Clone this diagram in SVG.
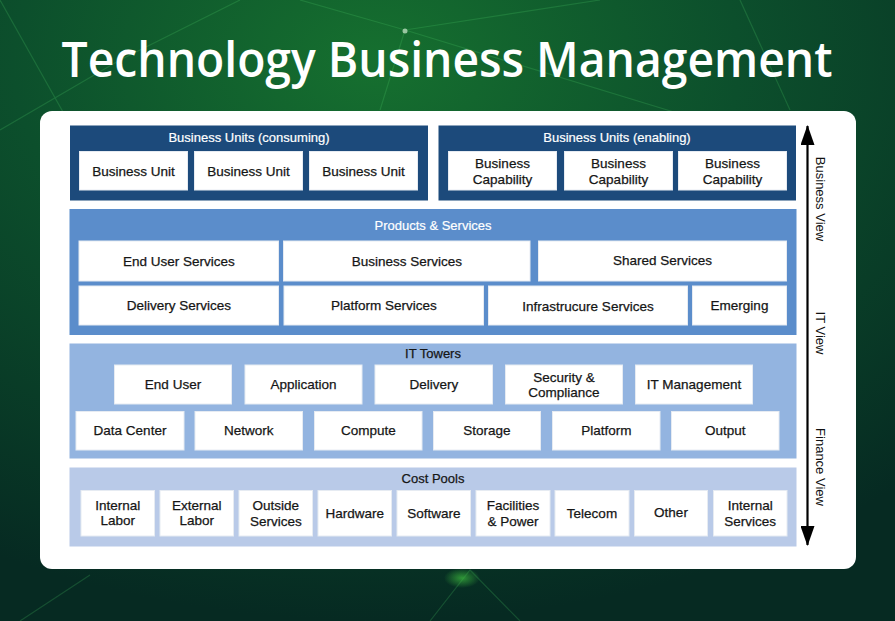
<svg xmlns="http://www.w3.org/2000/svg" width="895" height="621" viewBox="0 0 895 621">
<defs>
<radialGradient id="bg" cx="0.42" cy="0.1" r="0.9">
<stop offset="0" stop-color="#16702f"/>
<stop offset="0.45" stop-color="#0c4f2c"/>
<stop offset="1" stop-color="#062a22"/>
</radialGradient>
<radialGradient id="glow" cx="0.5" cy="0.5" r="0.5">
<stop offset="0" stop-color="#3fbf3f" stop-opacity="0.7"/>
<stop offset="1" stop-color="#3fbf3f" stop-opacity="0"/>
</radialGradient>
<marker id="ah" viewBox="0 0 20 14" refX="19" refY="7" markerWidth="20" markerHeight="14" markerUnits="userSpaceOnUse" orient="auto-start-reverse">
<path d="M0,0 L20,7 L0,14 Z" fill="#000"/>
</marker>
</defs>
<style>
.t{font-family:"Liberation Sans",Arial,sans-serif;font-size:13.5px;fill:#161616;stroke:#161616;stroke-width:0.25;text-anchor:middle;dominant-baseline:central}
.h{font-family:"Liberation Sans",Arial,sans-serif;font-size:13px;fill:#ffffff;stroke:#ffffff;stroke-width:0.2;text-anchor:middle;dominant-baseline:central}
.b{fill:#ffffff;stroke:#e6ebf2;stroke-width:1}
.v{font-family:"Liberation Sans",Arial,sans-serif;font-size:13px;fill:#111;text-anchor:middle;dominant-baseline:central}
.bgl{stroke:#4fd06a;stroke-width:1.2;fill:none}
</style>
<rect width="895" height="621" fill="url(#bg)"/>
<g opacity="0.22">
<path class="bgl" d="M0,0 L180,320"/>
<path class="bgl" d="M300,0 L405,30 L600,0"/>
<path class="bgl" d="M405,30 L380,110"/>
<path class="bgl" d="M405,30 L700,120"/>
<path class="bgl" d="M0,130 L120,60 L240,0"/>
<path class="bgl" d="M740,0 L790,110"/>
<path class="bgl" d="M430,621 L470,570 L520,621"/>
<path class="bgl" d="M20,621 L90,575"/>
</g>
<circle cx="405" cy="31" r="2.5" fill="#cfe8cf" opacity="0.7"/>
<ellipse cx="462" cy="578" rx="18" ry="10" fill="url(#glow)"/>
<text x="447" y="77" font-family="'Open Sans','Liberation Sans',sans-serif" font-size="49" font-weight="600" fill="#ffffff" text-anchor="middle" textLength="771" lengthAdjust="spacingAndGlyphs">Technology Business Management</text>
<rect x="40" y="111" width="816" height="458" rx="12" fill="#ffffff"/>

<g id="bu-consuming">
<rect x="70" y="125.5" width="358" height="75" fill="#1c4a7b"/>
<text class="h" x="249" y="137.5">Business Units (consuming)</text>
<rect class="b" x="79.5" y="151.5" width="108" height="38.5"/>
<text class="t" x="133.5" y="171">Business Unit</text>
<rect class="b" x="194.5" y="151.5" width="108" height="38.5"/>
<text class="t" x="248.5" y="171">Business Unit</text>
<rect class="b" x="309.5" y="151.5" width="108" height="38.5"/>
<text class="t" x="363.5" y="171">Business Unit</text>
</g>

<g id="bu-enabling">
<rect x="438.5" y="125.5" width="357.5" height="75" fill="#1c4a7b"/>
<text class="h" x="617" y="137.5">Business Units (enabling)</text>
<rect class="b" x="448.5" y="151.5" width="108" height="38.5"/>
<text class="t" x="502.5" y="163">Business</text><text class="t" x="502.5" y="179">Capability</text>
<rect class="b" x="564.5" y="151.5" width="108" height="38.5"/>
<text class="t" x="618.5" y="163">Business</text><text class="t" x="618.5" y="179">Capability</text>
<rect class="b" x="678.5" y="151.5" width="108" height="38.5"/>
<text class="t" x="732.5" y="163">Business</text><text class="t" x="732.5" y="179">Capability</text>
</g>

<g id="products-services">
<rect x="69.5" y="209" width="727" height="126" fill="#5b8dcb"/>
<text class="h" x="433" y="225">Products &amp; Services</text>
<rect class="b" x="79" y="241" width="199.5" height="40"/>
<text class="t" x="178.8" y="261">End User Services</text>
<rect class="b" x="283.5" y="241" width="246.5" height="40"/>
<text class="t" x="406.8" y="261">Business Services</text>
<rect class="b" x="538.5" y="241" width="248" height="40"/>
<text class="t" x="662.5" y="260.5">Shared Services</text>
<rect class="b" x="79" y="286" width="199.5" height="39"/>
<text class="t" x="178.8" y="305.5">Delivery Services</text>
<rect class="b" x="284" y="286" width="199.5" height="39"/>
<text class="t" x="383.8" y="305">Platform Services</text>
<rect class="b" x="488.5" y="286" width="199" height="39"/>
<text class="t" x="588" y="306">Infrastrucure Services</text>
<rect class="b" x="692.5" y="286" width="94" height="39"/>
<text class="t" x="739.5" y="305">Emerging</text>
</g>

<g id="it-towers">
<rect x="69.5" y="343.5" width="727" height="115" fill="#93b4e0"/>
<text class="t" x="433" y="353" style="font-size:13px">IT Towers</text>
<rect class="b" x="114.5" y="365" width="117" height="39"/>
<text class="t" x="173" y="384.5">End User</text>
<rect class="b" x="245" y="365" width="117" height="39"/>
<text class="t" x="303.5" y="384.5">Application</text>
<rect class="b" x="375" y="365" width="117.5" height="39"/>
<text class="t" x="433.8" y="384.5">Delivery</text>
<rect class="b" x="505.5" y="365" width="117" height="39"/>
<text class="t" x="564" y="377">Security &amp;</text><text class="t" x="564" y="392">Compliance</text>
<rect class="b" x="635.5" y="365" width="117" height="39"/>
<text class="t" x="694" y="384.5">IT Management</text>
<rect class="b" x="76" y="411.5" width="108" height="38.5"/>
<text class="t" x="130" y="430.5">Data Center</text>
<rect class="b" x="195" y="411.5" width="107.5" height="38.5"/>
<text class="t" x="248.8" y="430.5">Network</text>
<rect class="b" x="314.5" y="411.5" width="107.5" height="38.5"/>
<text class="t" x="368.3" y="430.5">Compute</text>
<rect class="b" x="433.5" y="411.5" width="107" height="38.5"/>
<text class="t" x="487" y="430.5">Storage</text>
<rect class="b" x="552.5" y="411.5" width="107.5" height="38.5"/>
<text class="t" x="606.3" y="430">Platform</text>
<rect class="b" x="671.5" y="411.5" width="107.5" height="38.5"/>
<text class="t" x="725.3" y="430.5">Output</text>
</g>

<g id="cost-pools">
<rect x="69.5" y="467.5" width="727" height="79" fill="#b9cae8"/>
<text class="t" x="433" y="478.5" style="font-size:13px">Cost Pools</text>
<rect class="b" x="81" y="490.5" width="73.5" height="45.5"/>
<text class="t" x="117.8" y="505">Internal</text><text class="t" x="117.8" y="520.5">Labor</text>
<rect class="b" x="160" y="490.5" width="73.5" height="45.5"/>
<text class="t" x="196.8" y="505">External</text><text class="t" x="196.8" y="520.5">Labor</text>
<rect class="b" x="239" y="490.5" width="73.5" height="45.5"/>
<text class="t" x="275.8" y="505.5">Outside</text><text class="t" x="275.8" y="521">Services</text>
<rect class="b" x="318" y="490.5" width="73.5" height="45.5"/>
<text class="t" x="354.8" y="513.5">Hardware</text>
<rect class="b" x="397" y="490.5" width="73.5" height="45.5"/>
<text class="t" x="433.8" y="513.5">Software</text>
<rect class="b" x="476" y="490.5" width="74" height="45.5"/>
<text class="t" x="513" y="505.5">Facilities</text><text class="t" x="513" y="521">&amp; Power</text>
<rect class="b" x="555" y="490.5" width="74" height="45.5"/>
<text class="t" x="592" y="513">Telecom</text>
<rect class="b" x="634.5" y="490.5" width="73" height="45.5"/>
<text class="t" x="671" y="512.5">Other</text>
<rect class="b" x="713.5" y="490.5" width="73.5" height="45.5"/>
<text class="t" x="750.2" y="505.5">Internal</text><text class="t" x="750.2" y="521">Services</text>
</g>

<g id="connectors">
<line x1="807.5" y1="126" x2="807.5" y2="545" stroke="#000" stroke-width="2.2" marker-start="url(#ah)" marker-end="url(#ah)"/>
</g>
<g id="view-labels">
<text class="v" transform="translate(820,199) rotate(90)">Business View</text>
<text class="v" transform="translate(820,333) rotate(90)">IT View</text>
<text class="v" transform="translate(820,467) rotate(90)">Finance View</text>
</g>
</svg>
